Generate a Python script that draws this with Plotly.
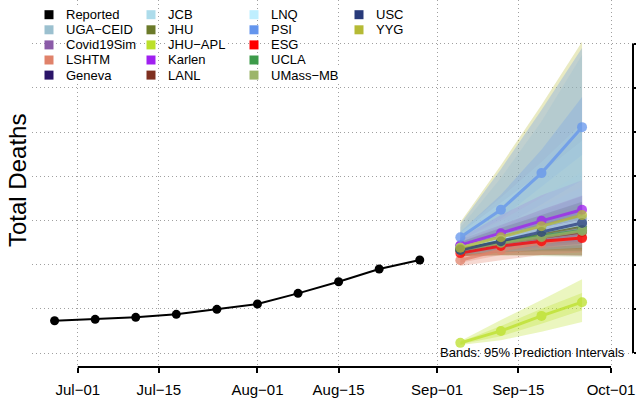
import plotly.graph_objects as go

# weekly reported totals (y-axis labels are cropped off in the source, scale estimated)
reported_dates = ["2020-06-27", "2020-07-04", "2020-07-11", "2020-07-18", "2020-07-25",
                  "2020-08-01", "2020-08-08", "2020-08-15", "2020-08-22", "2020-08-29"]
reported_deaths = [4365, 4381, 4404, 4438, 4494, 4554, 4675, 4806, 4950, 5052]

forecast_dates = ["2020-09-05", "2020-09-12", "2020-09-19", "2020-09-26"]

models = ["UGA-CEID", "Covid19Sim", "LSHTM", "Geneva", "JCB", "JHU", "JHU-APL", "Karlen",
          "LANL", "LNQ", "PSI", "ESG", "UCLA", "UMass-MB", "USC", "YYG"]

colors = {
    "UGA-CEID": "#9bc0cf", "Covid19Sim": "#8b5ba8", "LSHTM": "#e0826a", "Geneva": "#2a1468",
    "JCB": "#addceb", "JHU": "#6b7a2a", "JHU-APL": "#bce02a", "Karlen": "#a020f0",
    "LANL": "#7f3020", "LNQ": "#bfefff", "PSI": "#6495ed", "ESG": "#ff0000",
    "UCLA": "#3d9b4a", "UMass-MB": "#9cb56a", "USC": "#283a7a", "YYG": "#b5ba35",
}

median = {
    "UGA-CEID": [5210, 5325, 5425, 5525], "Covid19Sim": [5210, 5310, 5405, 5495],
    "LSHTM": [5050, 5165, 5245, 5310], "Geneva": [5190, 5280, 5370, 5450],
    "JCB": [5200, 5300, 5405, 5495], "JHU": [5175, 5265, 5355, 5435],
    "JHU-APL": [4115, 4250, 4420, 4575], "Karlen": [5220, 5355, 5495, 5620],
    "LANL": [5165, 5245, 5310, 5370], "LNQ": [5190, 5280, 5370, 5460],
    "PSI": [5310, 5620, 6035, 6555], "ESG": [5130, 5210, 5265, 5300],
    "UCLA": [5175, 5255, 5325, 5390], "UMass-MB": [5165, 5245, 5310, 5380],
    "USC": [5165, 5265, 5370, 5470], "YYG": [5190, 5310, 5435, 5560],
}
lo95 = {
    "UGA-CEID": [5110, 5145, 5165, 5190], "Covid19Sim": [5145, 5190, 5235, 5265],
    "LSHTM": [4985, 5050, 5110, 5140], "Geneva": [5120, 5165, 5200, 5235],
    "JCB": [5120, 5165, 5200, 5220], "JHU": [5110, 5145, 5165, 5175],
    "JHU-APL": [4090, 4145, 4240, 4350], "Karlen": [5145, 5200, 5245, 5280],
    "LANL": [5095, 5110, 5110, 5100], "LNQ": [5120, 5145, 5165, 5190],
    "PSI": [5240, 5420, 5680, 5955], "ESG": [5085, 5150, 5190, 5215],
    "UCLA": [5110, 5140, 5150, 5150], "UMass-MB": [5095, 5100, 5095, 5090],
    "USC": [5110, 5145, 5165, 5190], "YYG": [5095, 5110, 5110, 5110],
}
hi95 = {
    "UGA-CEID": [5420, 5980, 6620, 7370], "Covid19Sim": [5280, 5450, 5620, 5775],
    "LSHTM": [5120, 5280, 5415, 5525], "Geneva": [5255, 5415, 5560, 5710],
    "JCB": [5380, 5760, 6160, 6600], "JHU": [5260, 5420, 5560, 5700],
    "JHU-APL": [4135, 4375, 4600, 4835], "Karlen": [5300, 5560, 5785, 5955],
    "LANL": [5255, 5415, 5550, 5675], "LNQ": [5360, 5700, 6040, 6400],
    "PSI": [5460, 6080, 6750, 7450], "ESG": [5175, 5290, 5370, 5435],
    "UCLA": [5245, 5390, 5505, 5620], "UMass-MB": [5240, 5380, 5510, 5640],
    "USC": [5235, 5415, 5595, 5775], "YYG": [5480, 6125, 6805, 7520],
}
lo50 = {
    "UGA-CEID": [5165, 5235, 5300, 5370], "Covid19Sim": [5175, 5245, 5310, 5380],
    "LSHTM": [5020, 5110, 5180, 5230], "Geneva": [5155, 5220, 5280, 5335],
    "JCB": [5165, 5235, 5300, 5355], "JHU": [5145, 5200, 5255, 5300],
    "JHU-APL": [4100, 4190, 4330, 4485], "Karlen": [5190, 5280, 5370, 5450],
    "LANL": [5130, 5175, 5220, 5255], "LNQ": [5155, 5210, 5265, 5325],
    "PSI": [5270, 5520, 5880, 6240], "ESG": [5110, 5180, 5230, 5260],
    "UCLA": [5145, 5200, 5245, 5280], "UMass-MB": [5130, 5175, 5210, 5245],
    "USC": [5145, 5200, 5255, 5310], "YYG": [5145, 5210, 5280, 5345],
}
hi50 = {
    "UGA-CEID": [5300, 5650, 6050, 6500], "Covid19Sim": [5245, 5380, 5505, 5640],
    "LSHTM": [5085, 5220, 5325, 5415], "Geneva": [5220, 5335, 5460, 5570],
    "JCB": [5270, 5500, 5760, 6050], "JHU": [5210, 5330, 5440, 5550],
    "JHU-APL": [4125, 4305, 4500, 4680], "Karlen": [5255, 5435, 5620, 5785],
    "LANL": [5200, 5310, 5415, 5505], "LNQ": [5250, 5450, 5660, 5880],
    "PSI": [5370, 5790, 6300, 6895], "ESG": [5155, 5255, 5325, 5370],
    "UCLA": [5210, 5310, 5405, 5495], "UMass-MB": [5200, 5300, 5400, 5500],
    "USC": [5200, 5335, 5480, 5620], "YYG": [5230, 5370, 5510, 5650],
}

x_tick_vals = ["2020-07-01", "2020-07-15", "2020-08-01", "2020-08-15",
               "2020-09-01", "2020-09-15", "2020-10-01"]
x_tick_text = ["Jul−01", "Jul−15", "Aug−01", "Aug−15", "Sep−01", "Sep−15", "Oct−01"]
y_tick_vals = [4000, 4500, 5000, 5500, 6000, 6500, 7000, 7500]

FONT = "Liberation Sans, Arial, Helvetica, sans-serif"
W, H = 636, 398
PLOT_L, PLOT_R, PLOT_T, PLOT_B = 32, 633, 0, 367


def px_x(px):
    return (px - PLOT_L) / (PLOT_R - PLOT_L)


def px_y(py):
    return 1 - (py - PLOT_T) / (PLOT_B - PLOT_T)


def rgba(hex_color, alpha):
    h = hex_color.lstrip("#")
    return "rgba(%d,%d,%d,%s)" % (int(h[0:2], 16), int(h[2:4], 16), int(h[4:6], 16), alpha)


fig = go.Figure()

# prediction bands first (last model underneath), then the forecast lines on top
for m in models[::-1]:
    for lo, hi in [(lo95, hi95), (lo50, hi50)]:
        fig.add_trace(go.Scatter(
            x=forecast_dates + forecast_dates[::-1],
            y=hi[m] + lo[m][::-1],
            mode="lines", fill="toself", fillcolor=rgba(colors[m], 0.3),
            line=dict(width=0), hoverinfo="skip", showlegend=False))

for m in models:
    fig.add_trace(go.Scatter(
        x=forecast_dates, y=median[m], mode="lines+markers", name=m,
        line=dict(color=colors[m], width=3), marker=dict(color=colors[m], size=10),
        opacity=0.75, showlegend=False))

fig.add_trace(go.Scatter(
    x=reported_dates, y=reported_deaths, mode="lines+markers", name="Reported",
    line=dict(color="black", width=2), marker=dict(color="black", size=9),
    showlegend=False))

# hand-drawn legend, column major like the original
legend_labels = ["Reported"] + models
legend_colors = ["#000000"] + [colors[m] for m in models]
col_text_x = [65, 167, 270, 375]
row_y = [14.7, 29.8, 44.9, 60, 75.1]
for i, (lab, col) in enumerate(zip(legend_labels, legend_colors)):
    c, r = divmod(i, 5)
    tx, ty = col_text_x[c], row_y[r]
    fig.add_shape(type="rect", xref="paper", yref="paper",
                  x0=px_x(tx - 23), x1=px_x(tx + 1), y0=px_y(ty + 7.5), y1=px_y(ty - 7.5),
                  fillcolor="white", line_width=0, layer="between")
    fig.add_shape(type="rect", xref="paper", yref="paper",
                  x0=px_x(tx - 20.5), x1=px_x(tx - 11.5), y0=px_y(ty + 4.5), y1=px_y(ty - 4.5),
                  fillcolor=col, line_width=0, layer="above")
    fig.add_annotation(x=px_x(tx), y=px_y(ty), xref="paper", yref="paper",
                       text=lab.replace("-", "−"), showarrow=False, xanchor="left",
                       yanchor="middle", font=dict(size=13, color="black"),
                       bgcolor="white", borderpad=0)

fig.add_annotation(x=px_x(627), y=px_y(352), xref="paper", yref="paper",
                   text="Bands: 95% Prediction Intervals", showarrow=False,
                   xanchor="right", yanchor="middle", font=dict(size=13, color="black"))

fig.add_annotation(x=px_x(17), y=px_y(181), xref="paper", yref="paper",
                   text="Total Deaths", textangle=-90, showarrow=False,
                   xanchor="center", yanchor="middle", font=dict(size=24, color="black"))

# R-style axis lines that only span the tick range
fig.add_shape(type="line", xref="x", yref="paper", x0=x_tick_vals[0], x1=x_tick_vals[-1],
              y0=0, y1=0, line=dict(color="black", width=2), layer="above")
fig.add_shape(type="line", xref="paper", yref="y", x0=1, x1=1,
              y0=y_tick_vals[0], y1=y_tick_vals[-1], line=dict(color="black", width=2),
              layer="above")

grid = dict(showgrid=True, gridcolor="#a0a0a0", gridwidth=1, griddash="1px,3px", zeroline=False)
fig.update_layout(
    width=W, height=H,
    margin=dict(l=PLOT_L, r=W - PLOT_R, t=PLOT_T, b=H - PLOT_B, autoexpand=False),
    paper_bgcolor="white", plot_bgcolor="white",
    font=dict(family=FONT, color="black"),
    showlegend=False,
    xaxis=dict(type="date", range=["2020-06-23 02:30", "2020-10-04 19:00"],
               tickmode="array", tickvals=x_tick_vals, ticktext=x_tick_text,
               ticks="outside", ticklen=5, tickwidth=2, tickcolor="black",
               tickfont=dict(size=15, color="black"), ticklabelstandoff=4,
               showline=False, automargin=False, **grid),
    yaxis=dict(range=[3842, 7993], side="right", tickmode="array", tickvals=y_tick_vals,
               ticks="outside", ticklen=7, tickwidth=2, tickcolor="black",
               showticklabels=False, showline=False, automargin=False, **grid),
)

# the page body has a default 8px margin; drop it so the figure sits at the window origin
fig.write_html("out.html", config={"displayModeBar": False},
               post_script="document.body.style.margin='0';")
